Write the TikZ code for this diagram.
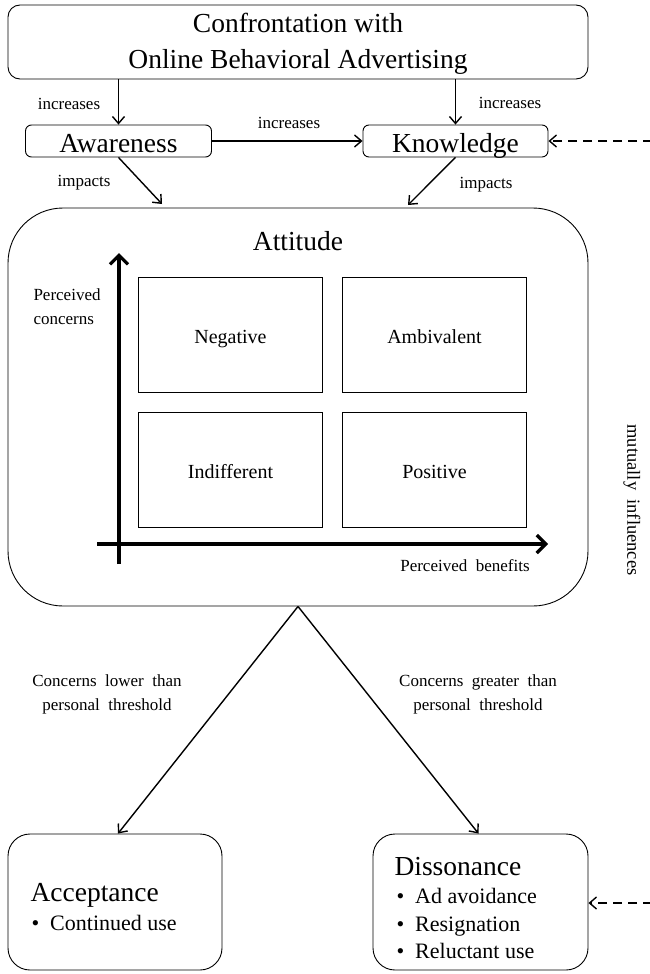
\documentclass[tikz,border=0pt]{standalone}
\usepackage{fontspec}
\setmainfont{Liberation Serif}
\usetikzlibrary{arrows.meta,positioning,calc}
\tikzset{
  box/.style={draw, line width=0.9pt, rounded corners=10pt, inner sep=0pt},
  arr/.style={line width=1.4pt, -{Straight Barb[length=7pt,width=12pt,line width=1.4pt]}},
  axisarr/.style={line width=3.2pt, -{Straight Barb[length=9pt,width=18pt,line width=3.2pt]}},
  quad/.style={draw, line width=0.8pt, minimum width=184pt, minimum height=115pt, inner sep=0pt},
  quadtxt/.style={anchor=base, font=\fontsize{20}{22}\selectfont},
  big/.style={font=\fontsize{27.5}{34}\selectfont},
  lab/.style={font=\fontsize{17}{20}\selectfont},
  item/.style={anchor=base west, font=\fontsize{22}{26}\selectfont},
  mid/.style={font=\fontsize{17}{24}\selectfont, align=center},
  dasharr/.style={line width=1.4pt, dash pattern=on 9pt off 6pt, -{Straight Barb[length=7pt,width=12pt,line width=1.4pt]}}
}
\begin{document}
\begin{tikzpicture}[x=1pt,y=-1pt]
\useasboundingbox (0,0) rectangle (650,974);
% boxes
\node[box, rounded corners=12pt, minimum width=580pt, minimum height=74pt] (top) at (298,42) {};
\node[big, anchor=base] at (298,33) {Confrontation with};
\node[big, anchor=base] at (298,69) {Online Behavioral Advertising};
\node[box, rounded corners=6pt, minimum width=186pt, minimum height=32pt] (aw) at (118.5,141) {};
\node[box, rounded corners=6pt, minimum width=185pt, minimum height=32pt] (kn) at (455.5,141) {};
\node[big, anchor=base] at (aw.center |- 0,152) {Awareness};
\node[big, anchor=base] at (kn.center |- 0,152) {Knowledge};
\node[box, rounded corners=55pt, minimum width=580pt, minimum height=398pt] (att) at (298,407) {};
\node[big, anchor=base] at (298,250) {Attitude};
\node[box, rounded corners=22pt, minimum width=214pt, minimum height=136pt] (acc) at (115,902) {};
\node[box, rounded corners=22pt, minimum width=215pt, minimum height=136pt] (dis) at (480.5,902) {};
% top arrows
\draw[arr] (aw.north |- top.south) -- (aw.north);
\draw[arr] (kn.north |- top.south) -- (kn.north);
\draw[arr] (aw.east) -- (kn.west);
\node[lab, anchor=base] at (69,109) {increases};
\node[lab, anchor=base] at (510,108) {increases};
\node[lab, anchor=base] at (289,128) {increases};
\coordinate (attl) at (162,204);
\coordinate (attr) at (408,205);
\draw[arr] (aw.south) -- (attl);
\draw[arr] (kn.south) -- (attr);
\node[lab, anchor=base] at (84,186) {impacts};
\node[lab, anchor=base] at (486,188) {impacts};
% axes
\coordinate (vb) at (119,564);
\coordinate (vt) at (119,253);
\coordinate (hl) at (97,544);
\coordinate (hr) at (548,544);
\draw[axisarr] (vb) -- (vt);
\draw[axisarr] (hl) -- (hr);
\node[lab, anchor=base west] at (30,300) {Perceived};
\node[lab, anchor=base west] at (30,324) {concerns};
\node[lab] at (465,566) {Perceived\enspace benefits};
% quadrants
\node[quad] (neg) at (230.5,334.5) {};
\node[quad] (amb) at (434.5,334.5) {};
\node[quad] (ind) at (230.5,469.5) {};
\node[quad] (pos) at (434.5,469.5) {};
\node[quadtxt] at (neg.center |- 0,343) {Negative};
\node[quadtxt] at (amb.center |- 0,343) {Ambivalent};
\node[quadtxt] at (ind.center |- 0,478) {Indifferent};
\node[quadtxt] at (pos.center |- 0,478) {Positive};
% branches
\draw[arr] (att.south) -- ([xshift=3pt]acc.north);
\draw[arr] (att.south) -- ([xshift=-2pt]dis.north);
\node[mid] at (107,694) {Concerns\enspace lower\enspace than\\personal\enspace threshold};
\node[mid] at (478,694) {Concerns\enspace greater\enspace than\\personal\enspace threshold};
% outcome texts
\node[big, anchor=base west] at (27,901) {Acceptance};
\node[item] at (28,930) {\textbullet\ \ Continued use};
\node[big, anchor=base west] at (391,875) {Dissonance};
\node[item] at (393,903) {\textbullet\ \ Ad avoidance};
\node[item] at (393,931) {\textbullet\ \ Resignation};
\node[item] at (393,958) {\textbullet\ \ Reluctant use};
% dashed influence
\coordinate (rk) at (652,141);
\coordinate (rd) at (652,903);
\draw[dasharr] (rk) -- (kn.east);
\draw[dasharr] (rd) -- (dis.east |- rd);
\node[font=\fontsize{18.5}{20}\selectfont, rotate=-90] at (632,500) {mutually\enspace influences};
\end{tikzpicture}
\end{document}
